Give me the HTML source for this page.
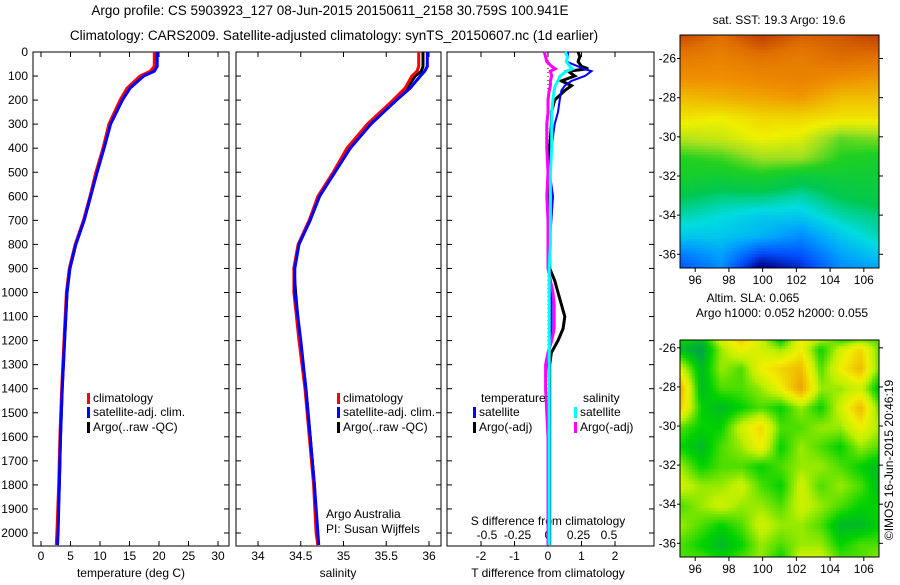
<!DOCTYPE html>
<html><head><meta charset="utf-8"><style>
body{margin:0;background:#fff;width:900px;height:580px;overflow:hidden}
svg text{font-family:"Liberation Sans",sans-serif;font-size:12px;fill:#000}
</style></head><body>
<svg id="fig" width="900" height="580" xmlns="http://www.w3.org/2000/svg">
<text x="330" y="15" text-anchor="middle" style="font-size:13.5px">Argo profile: CS 5903923_127 08-Jun-2015 20150611_2158 30.759S 100.941E</text>
<text x="334" y="40" text-anchor="middle" style="font-size:13.5px">Climatology: CARS2009. Satellite-adjusted climatology: synTS_20150607.nc (1d earlier)</text>
<g id="p1"></g>
<g id="p2"></g>
<g id="p3"></g>
<g id="maps"></g>
<text transform="translate(893,460) rotate(-90)" text-anchor="middle">©IMOS 16-Jun-2015 20:46:19</text>
</svg>
<script>
// ---- data ----
const depth = [0,60,80,100,150,200,300,400,500,600,700,800,900,1000,1200,1400,1600,1800,2000,2050];
const tempClim = [19.2,19.2,18.5,16.8,14.6,13.4,11.5,10.5,9.3,8.3,7.2,5.8,4.8,4.3,3.9,3.5,3.2,3.0,2.7,2.6];
const tempSat  = [19.7,19.7,19.2,17.4,15.1,13.8,11.8,10.7,9.5,8.4,7.3,5.9,4.9,4.4,4.0,3.6,3.3,3.1,2.9,2.8];
const tempArgo = [19.5,19.5,19.0,17.3,15.0,13.7,11.7,10.6,9.4,8.4,7.3,5.9,4.9,4.4,4.0,3.6,3.3,3.1,2.8,2.7];
const salClim  = [35.88,35.88,35.86,35.80,35.72,35.58,35.28,35.04,34.88,34.70,34.60,34.47,34.42,34.42,34.48,34.55,34.60,34.65,34.68,34.70];
const salSat   = [35.98,35.98,35.95,35.90,35.78,35.62,35.32,35.08,34.90,34.72,34.61,34.48,34.43,34.43,34.50,34.56,34.61,34.66,34.70,34.71];
const salArgo  = [35.93,35.93,35.91,35.84,35.74,35.60,35.30,35.06,34.89,34.71,34.60,34.47,34.42,34.44,34.49,34.56,34.61,34.66,34.69,34.70];
const diffDepth = [0,20,40,60,70,80,100,120,140,160,200,250,300,400,500,600,700,800,900,950,1000,1050,1100,1150,1200,1250,1300,1400,1600,1800,2000,2050];
const tDiffSat  = [0.6,0.6,0.55,0.9,1.05,1.3,1.1,0.7,0.5,0.4,0.35,0.3,0.2,0.1,0.05,0.15,0.1,0.05,0.05,0.05,0.1,0.1,0.1,0.1,0.05,0.05,0.0,0.05,0.05,0.05,0.05,0.05];
const tDiffArgo = [0.9,0.95,0.9,1.0,1.2,0.6,0.8,0.4,0.7,0.5,0.2,0.1,0.1,0.05,0.05,0.05,0.05,0.05,0.05,0.2,0.3,0.4,0.5,0.45,0.3,0.1,0.05,0.05,0.05,0.05,0.05,0.05];
const sDiffSat  = [0.14,0.16,0.15,0.18,0.20,0.15,0.10,0.08,0.06,0.05,0.04,0.03,0.03,0.03,0.02,0.02,0.02,0.02,0.01,0.01,0.01,0.01,0.01,0.01,0.01,0.01,0.01,0.01,0.01,0.01,0.01,0.01];
const sDiffArgo = [-0.03,-0.02,-0.01,0.03,0.06,0.02,0.03,0.02,0.02,0.01,0.0,0.0,-0.01,-0.01,0.0,-0.01,0.0,0.0,0.0,0.02,0.04,0.05,0.05,0.05,0.03,0.0,-0.02,-0.02,0.0,0.0,0.0,0.0];
const depthTicks = [0,100,200,300,400,500,600,700,800,900,1000,1100,1200,1300,1400,1500,1600,1700,1800,1900,2000];
const tempTicks = [0,5,10,15,20,25,30];
const salTicks = [34,34.5,35,35.5,36];
const tDiffTicks = [-2,-1,0,1,2];
const sDiffTicks = [-0.5,-0.25,0,0.25,0.5];
const sstLats = [-24.8,-26,-27,-28,-29,-30,-31,-32,-33,-34,-35,-36,-36.7];
const sstGrid = [
[21.8,21.5,21.9,21.6,21.7,21.9],[21.3,21.2,21.4,21.3,21.5,21.4],[21.0,21.0,21.1,21.2,21.0,20.9],
[20.6,20.7,20.8,20.9,20.6,20.6],[20.3,20.2,20.4,20.4,20.3,20.3],[19.9,20.0,20.2,20.1,19.6,19.7],
[19.4,19.5,19.8,19.8,19.4,19.3],[19.3,19.2,19.3,19.1,19.2,19.2],[19.0,18.9,18.9,18.8,19.0,19.1],
[18.8,18.7,18.6,18.6,18.8,18.9],[18.6,18.6,18.5,18.3,18.6,18.8],[18.2,18.4,17.9,18.0,18.4,18.6],[18.0,18.3,17.5,17.8,18.3,18.4]];
const slaLats = [-25.6,-26,-27,-28,-29,-30,-31,-32,-33,-34,-35,-36,-36.7];
const slaGrid = [
[0.2,0.1,0.5,0.7,0.5,0.2,0.6,0.4,0.3,0.4,0.3],[0.1,0.0,0.4,0.6,0.5,0.4,0.6,0.2,0.5,0.7,0.3],
[0.5,0.1,0.4,0.3,0.6,0.7,0.8,0.3,0.6,0.8,0.3],[0.8,0.1,0.3,0.3,0.4,0.6,0.9,0.4,0.4,0.5,0.1],
[0.7,0.2,0.1,0.2,0.3,0.2,0.4,0.2,0.5,0.8,0.3],[0.3,0.2,0.2,0.5,0.7,0.3,0.3,0.4,0.4,0.6,0.4],
[0.2,0.1,0.3,0.4,0.6,0.2,0.4,0.3,0.2,0.4,0.3],[0.4,0.2,0.3,0.3,0.2,0.3,0.4,0.4,0.3,0.2,0.1],
[0.5,0.4,0.4,0.5,0.3,0.2,0.5,0.3,0.4,0.3,0.1],[0.3,0.4,0.5,0.4,0.4,0.3,0.5,0.4,0.3,0.2,0.2],
[0.4,0.3,0.2,0.3,0.5,0.4,0.4,0.3,0.1,0.1,0.2],[0.3,0.2,0.1,0.2,0.4,0.3,0.4,0.4,0.2,0.3,0.3],[0.3,0.3,0.2,0.3,0.4,0.2,0.5,0.5,0.3,0.3,0.4]];
const lonTicks = [96,98,100,102,104,106];
const latTicks = [-26,-28,-30,-32,-34,-36];

const NS="http://www.w3.org/2000/svg";
function el(tag,attrs,parent,txt){const e=document.createElementNS(NS,tag);for(const k in attrs)e.setAttribute(k,attrs[k]);if(txt!==undefined)e.textContent=txt;parent.appendChild(e);return e;}
const TOP=52, BOT=546;
const yD = d => TOP + d*0.2405;
function frame(g,x0,x1,name){
  const r=el('rect',{x:x0,y:TOP,width:x1-x0,height:BOT-TOP,fill:'none',stroke:'#000','stroke-width':1},g);
  
  
  depthTicks.forEach(d=>{el('line',{x1:x0,x2:x0+5,y1:yD(d),y2:yD(d),stroke:'#000'},g);el('line',{x1:x1-5,x2:x1,y1:yD(d),y2:yD(d),stroke:'#000'},g);});
}
function xticks(g,ticks,fx,y,labels){
  ticks.forEach((t,i)=>{const x=fx(t);el('line',{x1:x,x2:x,y1:BOT,y2:BOT-5,stroke:'#000'},g);el('line',{x1:x,x2:x,y1:TOP,y2:TOP+5,stroke:'#000'},g);
    const tx=el('text',{x:x,y:y,'text-anchor':'middle'},g,labels?labels[i]:String(t));
    
    });
}
function line(g,xs,ds,fx,color,w,name){
  const pts=xs.map((v,i)=>fx(v).toFixed(1)+','+yD(ds[i]).toFixed(1)).join(' ');
  const p=el('polyline',{points:pts,fill:'none',stroke:color,'stroke-width':w},g);
  
  
}
function legend(g,x,y,color,label){
  el('rect',{x:x,y:y-9,width:3,height:11,fill:color},g);
  const t=el('text',{x:x+6,y:y},g,label);
  
  
}
// panel 1
const p1=document.getElementById('p1');
const xT = v => 41 + v*5.9;
frame(p1,33,229,'temperature');
depthTicks.forEach(d=>{const t=el('text',{x:28,y:yD(d)+4,'text-anchor':'end'},p1,String(d));});
xticks(p1,tempTicks,xT,560);
line(p1,tempArgo,depth,xT,'#000',3,'argo-temperature-line');
line(p1,tempClim,depth,xT,'#f00',3,'climatology-temperature-line');
line(p1,tempSat,depth,xT,'#00f',3,'satellite-temperature-line');
el('text',{x:131,y:577,'text-anchor':'middle'},p1,'temperature (deg C)');
legend(p1,87,402,'#f00','climatology');legend(p1,87,416,'#00f','satellite-adj. clim.');legend(p1,87,431,'#000','Argo(..raw -QC)');
// panel 2
const p2=document.getElementById('p2');
const xS = v => 258 + (v-34)*85.5;
frame(p2,236,441,'salinity');
xticks(p2,salTicks,xS,560);
line(p2,salArgo,depth,xS,'#000',3,'argo-salinity-line');
line(p2,salClim,depth,xS,'#f00',3,'climatology-salinity-line');
line(p2,salSat,depth,xS,'#00f',3,'satellite-salinity-line');
el('text',{x:338,y:577,'text-anchor':'middle'},p2,'salinity');
legend(p2,337,402,'#f00','climatology');legend(p2,337,416,'#00f','satellite-adj. clim.');legend(p2,337,431,'#000','Argo(..raw -QC)');
el('text',{x:326,y:518},p2,'Argo Australia');el('text',{x:326,y:533},p2,'PI: Susan Wijffels');
// panel 3
const p3=document.getElementById('p3');
const xTD = v => 548 + v*33.5;
const xSD = v => 548 + v*122;
frame(p3,447,654,'difference');
xticks(p3,tDiffTicks,xTD,560);
sDiffTicks.forEach(t=>{const tx=el('text',{x:xSD(t),y:539,'text-anchor':'middle'},p3,String(t));});
el('text',{x:548,y:525,'text-anchor':'middle'},p3,'S difference from climatology');
el('text',{x:548,y:577,'text-anchor':'middle'},p3,'T difference from climatology');
el('line',{x1:548,x2:548,y1:TOP,y2:BOT,stroke:'#000','stroke-dasharray':'1,3'},p3);
line(p3,tDiffArgo,diffDepth,xTD,'#000',3,'argo-t-diff-line');
line(p3,tDiffSat,diffDepth,xTD,'#00f',2,'satellite-t-diff-line');
line(p3,sDiffArgo,diffDepth,xSD,'#f0f',3,'argo-s-diff-line');
line(p3,sDiffSat,diffDepth,xSD,'#0ff',3,'satellite-s-diff-line');
el('text',{x:481,y:402},p3,'temperature');el('text',{x:583,y:402},p3,'salinity');
legend(p3,473,416,'#00f','satellite');legend(p3,473,431,'#000','Argo(-adj)');
legend(p3,574,416,'#0ff','satellite');legend(p3,574,431,'#f0f','Argo(-adj)');
// maps
const mg=document.getElementById('maps');
function cmap(stops,v){
  if(v<=stops[0][0])return stops[0][1];
  for(let i=1;i<stops.length;i++){if(v<=stops[i][0]){const a=stops[i-1],b=stops[i],t=(v-a[0])/(b[0]-a[0]);return a[1].map((c,k)=>Math.round(c+(b[1][k]-c)*t));}}
  return stops[stops.length-1][1];
}
const sstStops=[[17.6,[0,0,140]],[18.0,[0,80,255]],[18.4,[0,160,255]],[18.7,[0,220,224]],[19.0,[0,200,80]],[19.4,[32,208,32]],[19.8,[160,224,32]],[20.2,[240,240,0]],[20.6,[240,192,0]],[21.0,[240,144,0]],[21.5,[224,112,0]],[21.9,[192,64,0]]];
const slaStops=[[0,[0,160,80]],[0.2,[0,210,0]],[0.45,[190,240,0]],[0.6,[240,240,0]],[0.9,[240,160,0]]];
function map(x0,y0,w,h,lats,grid,stops,name,title,tx,ty){
  const lon0=95.1,lon1=106.9,lat0=lats[0],lat1=lats[lats.length-1];
  const fo=el('foreignObject',{x:x0,y:y0,width:w,height:h},mg);
  const cv=document.createElement('canvas');cv.width=w;cv.height=h;
  fo.appendChild(cv);const ctx=cv.getContext('2d');
  const nc=grid[0].length, nr=grid.length;
  for(let py=0;py<h;py+=3)for(let px=0;px<w;px+=3){
    const lat=lat0+(lat1-lat0)*py/h;
    let r=0;while(r<nr-2&&lats[r+1]>lat)r++;
    const fr=Math.min(1,Math.max(0,(lat-lats[r])/(lats[r+1]-lats[r])));
    const fc=px/w*(nc-1);const c=Math.min(nc-2,Math.floor(fc));const t=fc-c;
    const v=(grid[r][c]*(1-t)+grid[r][c+1]*t)*(1-fr)+(grid[r+1][c]*(1-t)+grid[r+1][c+1]*t)*fr;
    const col=cmap(stops,v);ctx.fillStyle='rgb('+col.join(',')+')';ctx.fillRect(px,py,3,3);
  }
  el('rect',{x:x0,y:y0,width:w,height:h,fill:'none',stroke:'#000'},mg);
  const fx=l=>x0+(l-lon0)/(lon1-lon0)*w, fy=l=>y0+(l-lat0)/(lat1-lat0)*h;
  lonTicks.forEach(l=>{el('line',{x1:fx(l),x2:fx(l),y1:y0+h,y2:y0+h+4,stroke:'#000'},mg);const t=el('text',{x:fx(l),y:y0+h+16,'text-anchor':'middle'},mg,String(l));});
  latTicks.forEach(l=>{el('line',{x1:x0+w,x2:x0+w+4,y1:fy(l),y2:fy(l),stroke:'#000'},mg);el('line',{x1:x0-3,x2:x0,y1:fy(l),y2:fy(l),stroke:'#000'},mg);const t=el('text',{x:x0-4,y:fy(l)+4,'text-anchor':'end'},mg,String(l));});
  title.forEach((s,i)=>el('text',{x:tx[i],y:ty[i],'text-anchor':'middle'},mg,s));
}
map(680,35,199,233,sstLats,sstGrid,sstStops,'sst-map',['sat. SST: 19.3 Argo: 19.6'],[779],[24]);
map(680,340,199,217,slaLats,slaGrid,slaStops,'sla-map',['Altim. SLA: 0.065','Argo h1000: 0.052 h2000: 0.055'],[753,782],[302,317]);
</script>
</body></html>
